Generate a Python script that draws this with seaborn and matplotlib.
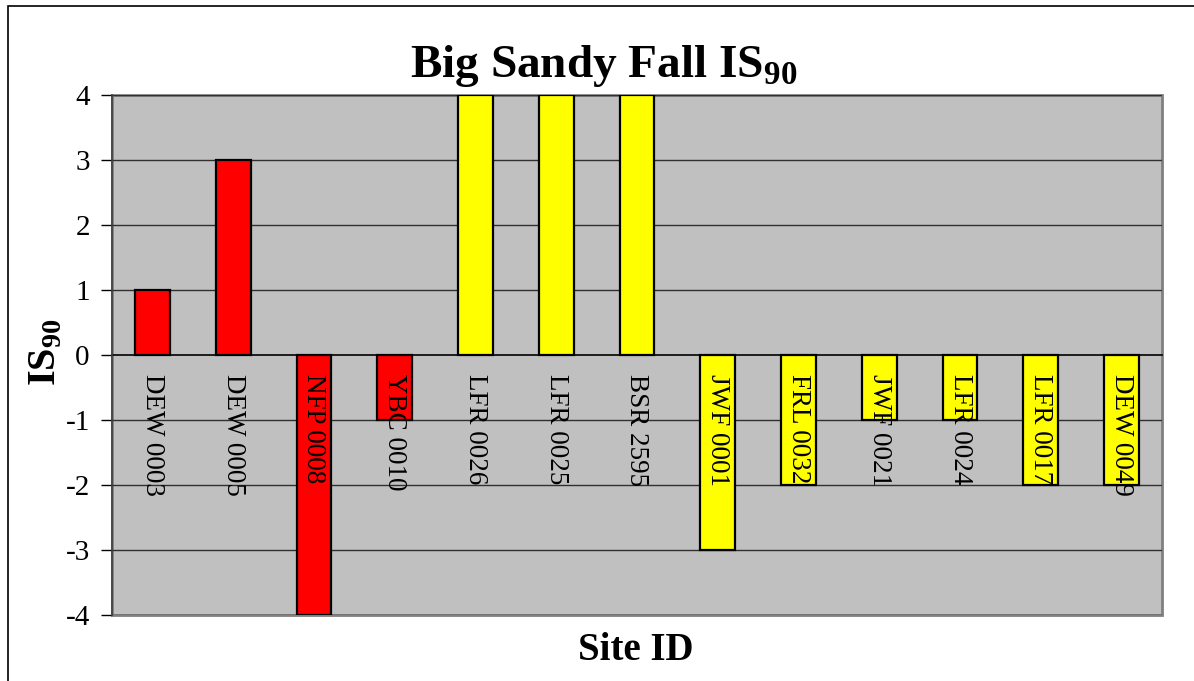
import matplotlib
matplotlib.use("Agg")
import matplotlib.pyplot as plt
import matplotlib.patches as mpatches
import seaborn as sns
import pandas as pd

sites = ["DEW 0003", "DEW 0005", "NFP 0008", "YBC 0010", "LFR 0026", "LFR 0025",
         "BSR 2595", "JWF 0001", "FRL 0032", "JWF 0021", "LFR 0024", "LFR 0017", "DEW 0049"]
values = [1, 3, -4, -1, 4, 4, 4, -3, -2, -1, -1, -2, -2]
groups = ["red", "red", "red", "red", "yellow", "yellow", "yellow", "yellow",
          "yellow", "yellow", "yellow", "yellow", "yellow"]
y_ticks = [-4, -3, -2, -1, 0, 1, 2, 3, 4]

df = pd.DataFrame({"site": sites, "value": values, "group": groups})

sns.set_style("white")
plt.rcParams["font.family"] = ["Liberation Serif", "DejaVu Serif"]
plt.rcParams["mathtext.fontset"] = "custom"
plt.rcParams["mathtext.rm"] = "Liberation Serif"
plt.rcParams["mathtext.bf"] = "Liberation Serif:bold"
plt.rcParams["text.color"] = "black"
plt.rcParams["xtick.color"] = "black"
plt.rcParams["ytick.color"] = "black"

fig = plt.figure(figsize=(11.94, 6.81), dpi=100)
ax = fig.add_axes([112 / 1194, 1 - 615 / 681, (1162 - 112) / 1194, (615 - 95) / 681])
ax.set_facecolor("#C0C0C0")

sns.barplot(data=df, x="site", y="value", hue="group",
            palette={"red": "#FF0000", "yellow": "#FFFF00"}, saturation=1,
            dodge=False, width=0.43, edgecolor="black", linewidth=1.6,
            legend=False, ax=ax, zorder=3)

ax.set_ylim(-4, 4)
ax.set_xlim(-0.5, len(sites) - 0.5)
ax.set_yticks(y_ticks)
ax.set_yticklabels([str(v) for v in y_ticks], fontsize=21, color="black")
for v in y_ticks:
    if v != 0:
        ax.axhline(v, color="#303030", lw=1.0, zorder=1)

# spines
for s in ["top", "right"]:
    ax.spines[s].set_visible(False)
ax.spines["left"].set_color("#404040")
ax.spines["left"].set_linewidth(1.2)
ax.spines["bottom"].set_position(("data", 0))
ax.spines["bottom"].set_color("black")
ax.spines["bottom"].set_linewidth(1.2)
ax.spines["bottom"].set_zorder(2)
ax.add_patch(mpatches.Rectangle((0, 0), 1, 1, transform=ax.transAxes, fill=False,
                                edgecolor="#808080", lw=2.0, zorder=0.5, clip_on=False))

ax.set_xticks([i + 0.5 for i in range(-1, len(sites))])
ax.set_xticklabels([])
ax.tick_params(axis="x", direction="out", length=7, width=1, color="black", pad=0)
ax.tick_params(axis="y", direction="out", length=8, width=1, color="black", pad=8,
               left=True)

for i, s in enumerate(sites):
    ax.annotate(s, xy=(i, 0), xytext=(0, -14), textcoords="offset points",
                rotation=270, ha="center", va="top", fontsize=19.5, color="black",
                zorder=5)

ax.set_xlabel("")
ax.set_ylabel("")
fig.text(604 / 1194, 1 - 66 / 681, r"Big Sandy Fall IS$_{\mathbf{90}}$", ha="center",
         va="center", fontsize=34, fontweight="bold", color="black")
fig.text(636 / 1194, 1 - 650 / 681, "Site ID", ha="center", va="center",
         fontsize=28, fontweight="bold", color="black")
fig.text(46 / 1194, 1 - 352 / 681, r"IS$_{\mathbf{90}}$", ha="center", va="center",
         fontsize=29, fontweight="bold", rotation=90, color="black")

fig.patches.append(mpatches.Rectangle((8 / 1194, -0.02), 1.1, 1 - 6 / 681 + 0.02,
                                      transform=fig.transFigure, fill=False,
                                      edgecolor="black", lw=1.2))

fig.savefig("out.png", dpi=100)
